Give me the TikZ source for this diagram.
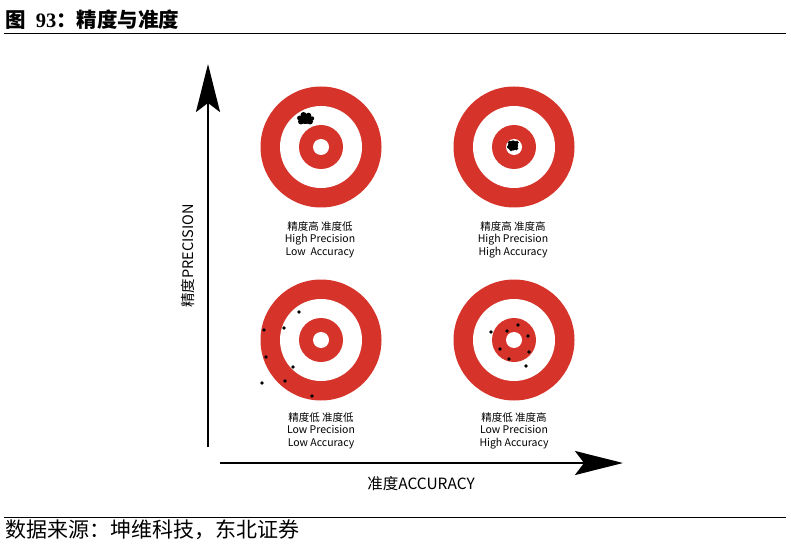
\documentclass[tikz,border=0pt]{standalone}
\usepackage{fontspec}
\setmainfont{Liberation Serif}
\newfontfamily\cjkfont{Noto Sans CJK SC}
\usetikzlibrary{arrows.meta}

\definecolor{targetred}{RGB}{214,52,42}

\begin{document}
\begin{tikzpicture}[
    x=1pt, y=-1pt,
    ring/.style={fill=targetred},
    hole/.style={fill=white},
    shot/.style={fill=black},
    caption/.style={
        font=\cjkfont\fontsize{10.5}{12.5}\selectfont,
        align=center,
        inner sep=0pt,
        anchor=north
    },
    axisline/.style={
        draw,
        line width=2.6pt,
        -{Stealth[length=48pt, width=24pt, inset=9pt]}
    },
    axislabel/.style={
        font=\cjkfont\fontsize{14.5}{16}\selectfont,
        inner sep=0pt
    }
]
\useasboundingbox (0,0) rectangle (791,545);

% ============ HEADER ============
\node[anchor=west, inner sep=0pt, font=\fontsize{20.5}{22}\selectfont] (title) at (5,20)
    {{\cjkfont\bfseries 图}\ \ {\bfseries 93}{\cjkfont\bfseries ：精度与准度}};
\coordinate (titleL) at (4,33);
\coordinate (titleR) at (786,33);
\draw[line width=0.9pt] (titleL) -- (titleR);

% ============ TARGETS ============
% centres: top-left, top-right, bottom-left, bottom-right
\foreach \cx/\cy in {321/147, 514/147, 321/340, 514/340} {
    \fill[ring] (\cx,\cy) circle (60.5pt);
    \fill[hole] (\cx,\cy) circle (41pt);
    \fill[ring] (\cx,\cy) circle (22pt);
    \fill[hole] (\cx,\cy) circle (8pt);
}

% High precision, low accuracy: one tight cluster off centre
\fill[shot] (305.5,119) ellipse (6.5pt and 5pt);
\foreach \sx/\sy/\sr in {301/121.5/3, 310/121.5/3, 303.5/115/3, 308.5/115.5/2.8, 299.5/118/2.4, 312/118.5/2.2} {
    \fill[shot] (\sx,\sy) circle (\sr pt);
}

% High precision, high accuracy: cluster in the bull
\fill[shot] (513,145.5) circle (5.2pt);
\foreach \sx/\sy in {509.5/142.5, 516.5/148.5, 511/149.5, 517/142.5, 508.5/147} {
    \fill[shot] (\sx,\sy) circle (1.8pt);
}

% Low precision, low accuracy: scattered shots
\foreach \sx/\sy in {299/312, 264/330, 284/328, 266/357, 293/367, 262/383, 285/381, 312/396} {
    \fill[shot] (\sx,\sy) circle (1.9pt);
}

% Low precision, high accuracy: shots around the bull
\foreach \sx/\sy in {491/332, 507/331, 518/325, 528/336, 500/349, 529/352, 509/359, 526/366} {
    \fill[shot] (\sx,\sy) circle (1.9pt);
}

% ============ CAPTIONS ============
\node[caption] (capHPLA) at (320,221) {精度高 准度低\\High Precision\\Low\ \ Accuracy};
\node[caption] (capHPHA) at (513,221) {精度高 准度高\\High Precision\\High Accuracy};
\node[caption] (capLPLA) at (321,412) {精度低 准度低\\Low Precision\\Low Accuracy};
\node[caption] (capLPHA) at (514,412) {精度低 准度高\\Low Precision\\High Accuracy};

% ============ AXES ============
\coordinate (yfoot) at (208,447);
\coordinate (ytip) at (208,64);
\coordinate (xfoot) at (220,463);
\coordinate (xtip) at (623,463);
\draw[axisline] (yfoot) -- (ytip);
\draw[axisline] (xfoot) -- (xtip);

\node[axislabel, rotate=90] (ylab) at (188,256) {精度PRECISION};
\node[axislabel, font=\cjkfont\fontsize{15.5}{17}\selectfont] (xlab) at (421,484) {准度ACCURACY};

% ============ FOOTER ============
\coordinate (footL) at (4,517);
\coordinate (footR) at (786,517);
\draw[line width=0.9pt] (footL) -- (footR);
\node[anchor=west, inner sep=0pt, font=\cjkfont\fontsize{21}{23}\selectfont] (source) at (5,530)
    {数据来源：坤维科技，东北证券};

\end{tikzpicture}
\end{document}
